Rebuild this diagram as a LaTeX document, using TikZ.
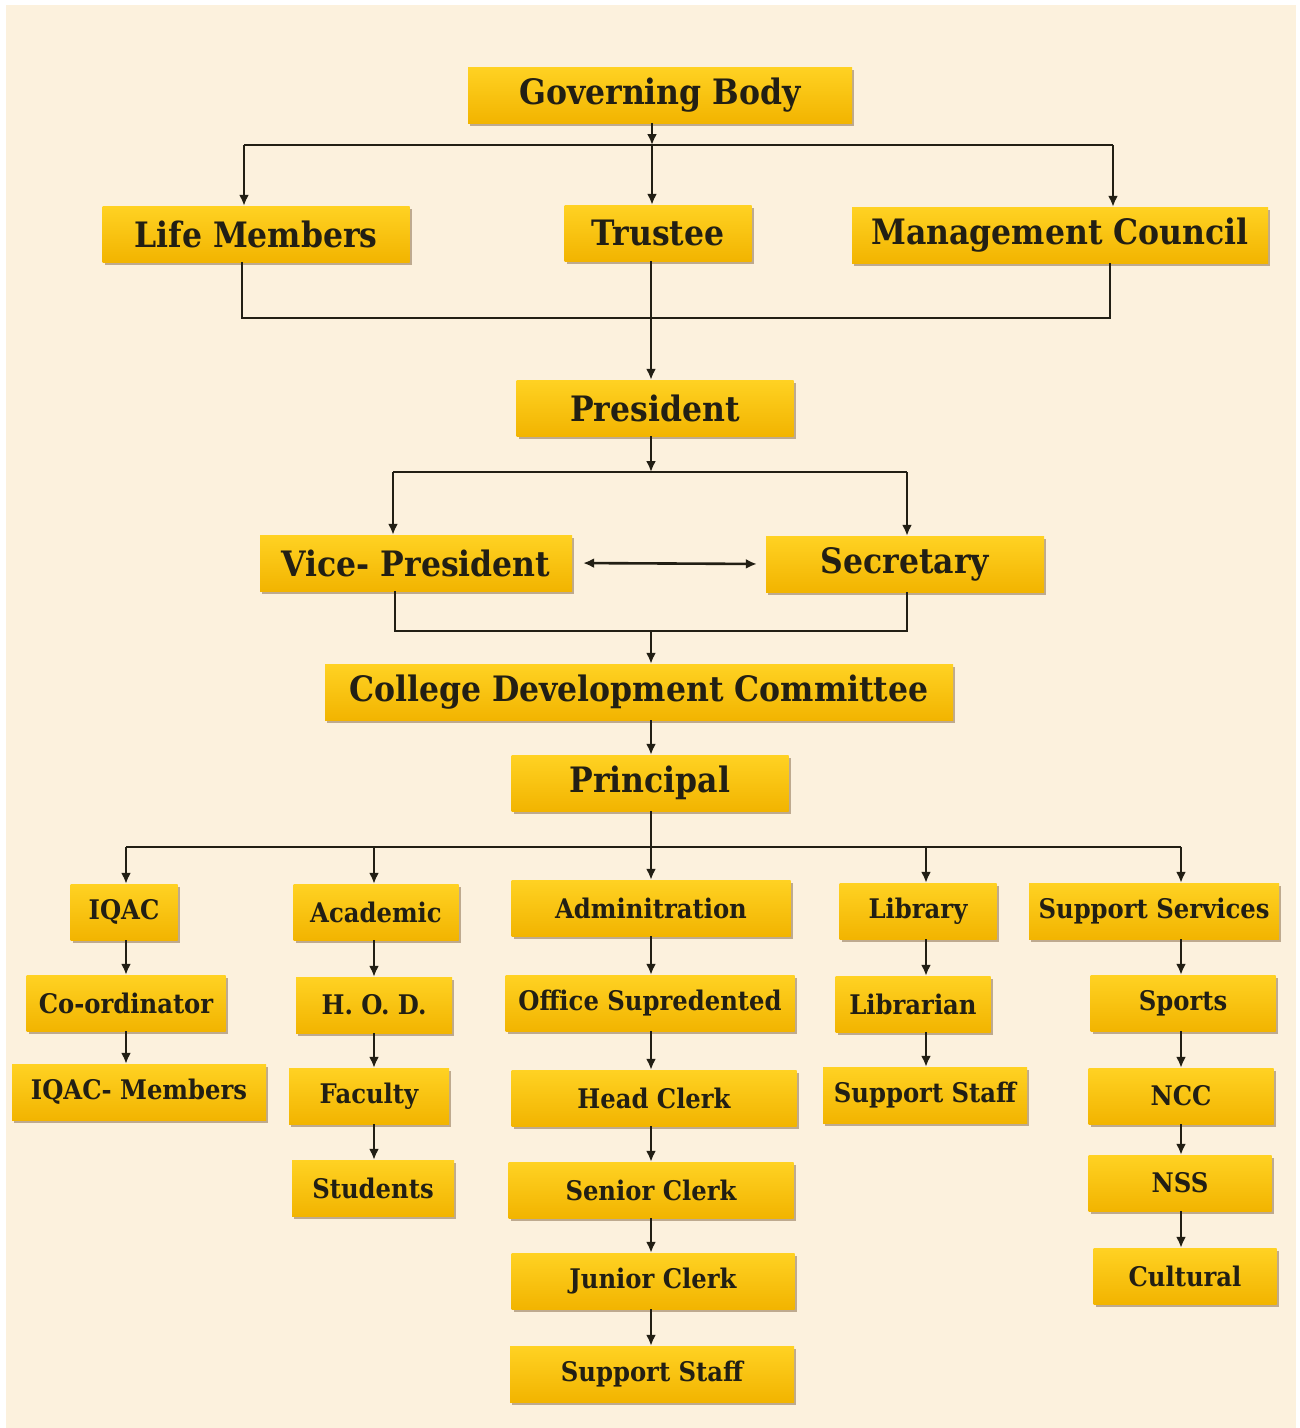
\documentclass[tikz,border=0pt]{standalone}
\usepackage{fontspec}
\setmainfont{DejaVu Serif Condensed}
\usetikzlibrary{arrows.meta,shadows}

\definecolor{paper}{HTML}{FCF1DD}
\definecolor{goldtop}{HTML}{FFD223}
\definecolor{goldbot}{HTML}{F2B400}
\definecolor{ink}{HTML}{221F14}

\tikzset{
  post/.style={top color=goldtop, bottom color=goldbot, draw=none, inner sep=0pt,
    minimum height=56pt, text=ink, font=\bfseries\fontsize{35}{35}\selectfont,
    drop shadow={shadow xshift=2pt, shadow yshift=-3pt, opacity=0.35, fill=black!70!orange}},
  unit/.style={post, font=\bfseries\fontsize{27}{27}\selectfont},
  link/.style={line width=2.6pt, draw=ink},
  arr/.style={link, -{Latex[length=11pt,width=10pt]}},
}

\begin{document}
\begin{tikzpicture}[x=1pt,y=-1pt]
  \useasboundingbox (0,0) rectangle (1300,1428);
  \fill[white] (0,0) rectangle (1300,1428);
  \fill[paper] (6,5) rectangle (1296,1428);

  % top levels
  \node[post, minimum width=384pt] (gb)  at (660,95)  {Governing Body};
  \node[post, minimum width=307pt] (lm)  at (256,234) {Life Members};
  \node[post, minimum width=187pt] (tr)  at (658,233) {Trustee};
  \node[post, minimum width=416pt] (mc)  at (1060,235) {Management Council};
  \node[post, minimum width=277pt] (pr)  at (655,408) {President};
  \node[post, minimum width=312pt] (vp)  at (416,563) {Vice- President};
  \node[post, minimum width=278pt] (sec) at (905,564) {Secretary};
  \node[post, minimum width=628pt] (cdc) at (639,692) {College Development Committee};
  \node[post, minimum width=277pt] (pri) at (650,783) {Principal};

  % departments
  \node[unit, minimum width=107pt] (iqac) at (124,912)  {IQAC};
  \node[unit, minimum width=199pt] (cord) at (126,1003) {Co-ordinator};
  \node[unit, minimum width=254pt] (iqm)  at (139,1092) {IQAC- Members};

  \node[unit, minimum width=165pt] (acad) at (376,912)  {Academic};
  \node[unit, minimum width=156pt] (hod)  at (374,1005) {H. O. D.};
  \node[unit, minimum width=160pt] (fac)  at (369,1096) {Faculty};
  \node[unit, minimum width=162pt] (stu)  at (373,1188) {Students};

  \node[unit, minimum width=279pt] (adm)  at (651,908)  {Adminitration};
  \node[unit, minimum width=289pt] (ofs)  at (650,1003) {Office Supredented};
  \node[unit, minimum width=285pt] (hcl)  at (654,1098) {Head Clerk};
  \node[unit, minimum width=285pt] (scl)  at (651,1190) {Senior Clerk};
  \node[unit, minimum width=283pt] (jcl)  at (653,1281) {Junior Clerk};
  \node[unit, minimum width=284pt] (ssa)  at (652,1374) {Support Staff};

  \node[unit, minimum width=157pt] (lib)  at (918,911)  {Library};
  \node[unit, minimum width=155pt] (lbn)  at (913,1004) {Librarian};
  \node[unit, minimum width=204pt] (ssl)  at (925,1095) {Support Staff};

  \node[unit, minimum width=250pt] (sup)  at (1154,911) {Support Services};
  \node[unit, minimum width=185pt] (spo)  at (1183,1003) {Sports};
  \node[unit, minimum width=185pt] (ncc)  at (1181,1096) {NCC};
  \node[unit, minimum width=183pt] (nss)  at (1180,1183) {NSS};
  \node[unit, minimum width=183pt] (cul)  at (1185,1276) {Cultural};

  % bus lines
  \coordinate (b1L) at (244,145);  \coordinate (b1M) at (652,145);  \coordinate (b1R) at (1113,145);
  \coordinate (b2L) at (242,318);  \coordinate (b2M) at (651,318);  \coordinate (b2R) at (1110,318);
  \coordinate (b3L) at (393,472);  \coordinate (b3M) at (651,472);  \coordinate (b3R) at (907,472);
  \coordinate (b4L) at (395,631);  \coordinate (b4M) at (651,631);  \coordinate (b4R) at (907,631);
  \coordinate (b5a) at (126,847);  \coordinate (b5b) at (374,847);  \coordinate (b5c) at (651,847);
  \coordinate (b5d) at (926,847);  \coordinate (b5e) at (1181,847);

  \draw[arr] (gb.south -| b1M) -- (b1M);
  \draw[link] (b1L) -- (b1R);
  \draw[arr] (b1L) -- (b1L |- lm.north);
  \draw[arr] (b1M) -- (b1M |- tr.north);
  \draw[arr] (b1R) -- (b1R |- mc.north);

  \draw[link] (b2L |- lm.south) -- (b2L) -- (b2R) -- (b2R |- mc.south);
  \draw[link] (b2M |- tr.south) -- (b2M);
  \draw[arr] (b2M) -- (b2M |- pr.north);

  \draw[arr] (pr.south -| b3M) -- (b3M);
  \draw[link] (b3L) -- (b3R);
  \draw[arr] (b3L) -- (b3L |- vp.north);
  \draw[arr] (b3R) -- (b3R |- sec.north);
  \draw[link, {Latex[length=11pt,width=10pt]}-{Latex[length=11pt,width=10pt]},
        shorten <=11pt, shorten >=9pt] (vp.east) -- (sec.west);

  \draw[link] (b4L |- vp.south) -- (b4L) -- (b4R) -- (b4R |- sec.south);
  \draw[arr] (b4M) -- (b4M |- cdc.north);
  \draw[arr] (cdc.south -| b4M) -- (pri.north -| b4M);

  \draw[link] (pri.south -| b5c) -- (b5c);
  \draw[link] (b5a) -- (b5e);
  \foreach \c/\n in {b5a/iqac, b5b/acad, b5c/adm, b5d/lib, b5e/sup}
    \draw[arr] (\c) -- (\c |- \n.north);

  % columns
  \foreach \a/\b/\c in {iqac/cord/b5a, cord/iqm/b5a,
                        acad/hod/b5b, hod/fac/b5b, fac/stu/b5b,
                        adm/ofs/b5c, ofs/hcl/b5c, hcl/scl/b5c, scl/jcl/b5c, jcl/ssa/b5c,
                        lib/lbn/b5d, lbn/ssl/b5d,
                        sup/spo/b5e, spo/ncc/b5e, ncc/nss/b5e, nss/cul/b5e}
    \draw[arr] (\a.south -| \c) -- (\b.north -| \c);
\end{tikzpicture}
\end{document}
